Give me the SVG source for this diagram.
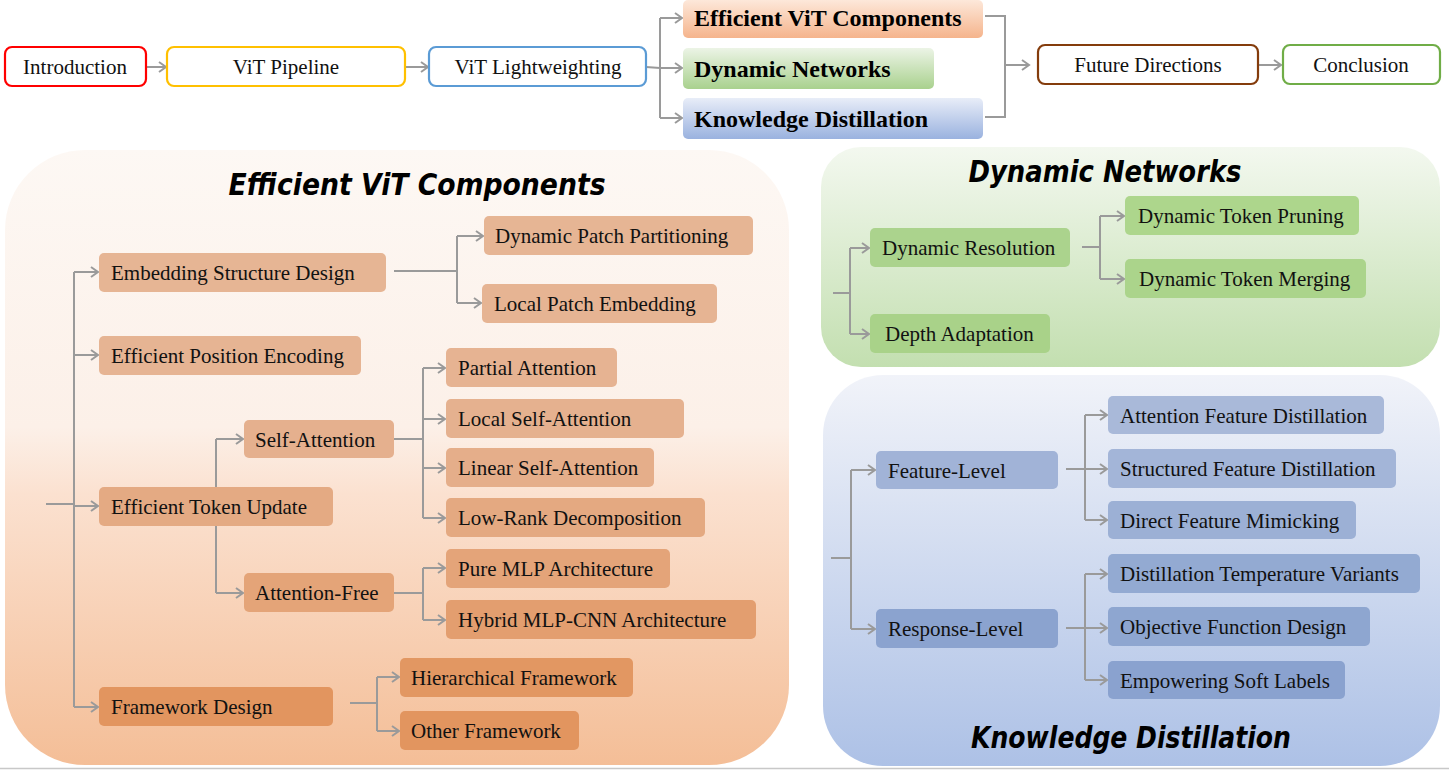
<svg xmlns="http://www.w3.org/2000/svg" width="1449" height="771" viewBox="0 0 1449 771">
<style>
.t{font-family:"Liberation Serif","Times New Roman",serif;font-size:21px;fill:#111}
.tc{text-anchor:middle}
.tb{font-family:"Liberation Serif","Times New Roman",serif;font-size:24px;font-weight:bold;fill:#000}
.title{font-family:"DejaVu Sans",sans-serif;font-size:30px;font-weight:bold;font-style:italic;fill:#000}
.top{fill:#fff;stroke-width:2.2}
.c{fill:none;stroke:#9a9a9a;stroke-width:2}
.ca{fill:none;stroke:#9a9a9a;stroke-width:2;marker-end:url(#ah)}
</style>
<defs>
<marker id="ah" markerUnits="userSpaceOnUse" markerWidth="12" markerHeight="14" refX="9" refY="6" orient="auto" viewBox="0 0 12 12">
<path d="M2,1 L9,6 L2,11" fill="none" stroke="#9a9a9a" stroke-width="2"/>
</marker>
<linearGradient id="gE" x1="0" y1="0" x2="0" y2="1">
<stop offset="0" stop-color="#fdf8f4"/><stop offset="0.45" stop-color="#fcf0e8"/><stop offset="0.56" stop-color="#fbe1d0"/><stop offset="1" stop-color="#f4be97"/>
</linearGradient>
<linearGradient id="gD" x1="0" y1="0" x2="0" y2="1">
<stop offset="0" stop-color="#f3f8ef"/><stop offset="1" stop-color="#c3dfb0"/>
</linearGradient>
<linearGradient id="gK" x1="0" y1="0" x2="0" y2="1">
<stop offset="0" stop-color="#f1f3f9"/><stop offset="1" stop-color="#adc1e6"/>
</linearGradient>
<linearGradient id="bE" x1="0" y1="0" x2="0" y2="1">
<stop offset="0" stop-color="#fde8da"/><stop offset="1" stop-color="#f5b48c"/>
</linearGradient>
<linearGradient id="bD" x1="0" y1="0" x2="0" y2="1">
<stop offset="0" stop-color="#ecf4e6"/><stop offset="1" stop-color="#a9d18e"/>
</linearGradient>
<linearGradient id="bK" x1="0" y1="0" x2="0" y2="1">
<stop offset="0" stop-color="#e8edf8"/><stop offset="1" stop-color="#9ab2df"/>
</linearGradient>
</defs>

<!-- panels -->
<g id="panel-efficient">
<rect x="5" y="150" width="784" height="615" rx="80" fill="url(#gE)"/>
<text class="title" x="417" y="195" text-anchor="middle" textLength="377" lengthAdjust="spacingAndGlyphs">Efficient ViT Components</text>
</g>
<g id="panel-dynamic">
<rect x="821" y="147" width="619" height="220" rx="40" fill="url(#gD)"/>
<text class="title" x="1105" y="182" text-anchor="middle" textLength="273" lengthAdjust="spacingAndGlyphs">Dynamic Networks</text>
</g>
<g id="panel-kd">
<rect x="823" y="375" width="617" height="391" rx="60" fill="url(#gK)"/>
<text class="title" x="1131" y="748" text-anchor="middle" textLength="320" lengthAdjust="spacingAndGlyphs">Knowledge Distillation</text>
</g>

<!-- connectors -->
<g id="connectors">
<!-- top row -->
<line class="ca" x1="146" y1="67" x2="166" y2="67"/>
<line class="ca" x1="405" y1="67" x2="428" y2="67"/>
<line class="c" x1="646" y1="67" x2="660" y2="68"/>
<path class="c" d="M660,18 V118"/>
<line class="ca" x1="660" y1="18" x2="682" y2="18"/>
<line class="ca" x1="660" y1="68" x2="682" y2="68"/>
<line class="ca" x1="660" y1="118" x2="682" y2="118"/>
<path class="c" d="M985,16 H1005 V117 H985"/>
<line class="ca" x1="1005" y1="65" x2="1029" y2="65"/>
<line class="ca" x1="1258" y1="65" x2="1281" y2="65"/>

<!-- efficient panel -->
<line class="c" x1="46" y1="504" x2="74" y2="504"/>
<path class="c" d="M74,272 V707"/>
<line class="ca" x1="74" y1="272" x2="98" y2="272"/>
<line class="ca" x1="74" y1="355" x2="98" y2="355"/>
<line class="ca" x1="74" y1="506" x2="98" y2="506"/>
<line class="ca" x1="74" y1="707" x2="98" y2="707"/>
<line class="c" x1="394" y1="271" x2="457" y2="271"/>
<path class="c" d="M457,236 V303"/>
<line class="ca" x1="457" y1="236" x2="483" y2="236"/>
<line class="ca" x1="457" y1="303" x2="481" y2="303"/>
<path class="c" d="M216,439 V593"/>
<line class="ca" x1="216" y1="439" x2="243" y2="439"/>
<line class="ca" x1="216" y1="593" x2="243" y2="593"/>
<line class="c" x1="394" y1="439" x2="423" y2="439"/>
<path class="c" d="M423,368 V518"/>
<line class="ca" x1="423" y1="368" x2="445" y2="368"/>
<line class="ca" x1="423" y1="419" x2="445" y2="419"/>
<line class="ca" x1="423" y1="468" x2="445" y2="468"/>
<line class="ca" x1="423" y1="518" x2="445" y2="518"/>
<line class="c" x1="394" y1="593" x2="423" y2="593"/>
<path class="c" d="M423,568 V620"/>
<line class="ca" x1="423" y1="568" x2="445" y2="568"/>
<line class="ca" x1="423" y1="620" x2="445" y2="620"/>
<line class="c" x1="350" y1="703" x2="377" y2="703"/>
<path class="c" d="M377,677 V731"/>
<line class="ca" x1="377" y1="677" x2="399" y2="677"/>
<line class="ca" x1="377" y1="731" x2="399" y2="731"/>

<!-- dynamic panel -->
<line class="c" x1="833" y1="293" x2="850" y2="293"/>
<path class="c" d="M850,248 V334"/>
<line class="ca" x1="850" y1="248" x2="869" y2="248"/>
<line class="ca" x1="850" y1="334" x2="869" y2="334"/>
<line class="c" x1="1082" y1="247" x2="1100" y2="247"/>
<path class="c" d="M1100,216 V279"/>
<line class="ca" x1="1100" y1="216" x2="1124" y2="216"/>
<line class="ca" x1="1100" y1="279" x2="1124" y2="279"/>

<!-- kd panel -->
<line class="c" x1="831" y1="558" x2="851" y2="558"/>
<path class="c" d="M851,470 V629"/>
<line class="ca" x1="851" y1="470" x2="875" y2="470"/>
<line class="ca" x1="851" y1="629" x2="875" y2="629"/>
<line class="c" x1="1066" y1="469" x2="1085" y2="469"/>
<path class="c" d="M1085,415 V520"/>
<line class="ca" x1="1085" y1="415" x2="1107" y2="415"/>
<line class="ca" x1="1085" y1="469" x2="1107" y2="469"/>
<line class="ca" x1="1085" y1="520" x2="1107" y2="520"/>
<line class="c" x1="1066" y1="628" x2="1085" y2="628"/>
<path class="c" d="M1085,574 V680"/>
<line class="ca" x1="1085" y1="574" x2="1107" y2="574"/>
<line class="ca" x1="1085" y1="628" x2="1107" y2="628"/>
<line class="ca" x1="1085" y1="680" x2="1107" y2="680"/>
</g>

<!-- top row nodes -->
<g id="n-intro"><rect class="top" x="5" y="47" width="141" height="39" rx="7" stroke="#ff0000"/><text class="t tc" x="75" y="74">Introduction</text></g>
<g id="n-pipeline"><rect class="top" x="167" y="47" width="238" height="39" rx="7" stroke="#ffc000"/><text class="t tc" x="286" y="74">ViT Pipeline</text></g>
<g id="n-light"><rect class="top" x="429" y="47" width="217" height="39" rx="7" stroke="#5b9bd5"/><text class="t tc" x="538" y="74">ViT Lightweighting</text></g>
<g id="n-top-evit"><rect x="683" y="0" width="300" height="38" rx="5" fill="url(#bE)"/><text class="tb" x="694" y="26">Efficient ViT Components</text></g>
<g id="n-top-dn"><rect x="683" y="48" width="251" height="41" rx="5" fill="url(#bD)"/><text class="tb" x="694" y="77">Dynamic Networks</text></g>
<g id="n-top-kd"><rect x="683" y="98" width="300" height="41" rx="5" fill="url(#bK)"/><text class="tb" x="694" y="127">Knowledge Distillation</text></g>
<g id="n-future"><rect class="top" x="1038" y="45" width="220" height="39" rx="7" stroke="#843c0c"/><text class="t tc" x="1148" y="72">Future Directions</text></g>
<g id="n-concl"><rect class="top" x="1283" y="45" width="157" height="39" rx="7" stroke="#70ad47"/><text class="t tc" x="1361" y="72">Conclusion</text></g>

<!-- efficient panel nodes -->
<g id="n-emb"><rect x="99" y="253" width="287" height="39" rx="5" fill="#e6b594"/><text class="t" x="111" y="280">Embedding Structure Design</text></g>
<g id="n-dpp"><rect x="484" y="216" width="269" height="39" rx="5" fill="#e6b594"/><text class="t" x="495" y="243">Dynamic Patch Partitioning</text></g>
<g id="n-lpe"><rect x="482" y="284" width="235" height="39" rx="5" fill="#e6b493"/><text class="t" x="494" y="311">Local Patch Embedding</text></g>
<g id="n-epe"><rect x="99" y="336" width="262" height="39" rx="5" fill="#e6b493"/><text class="t" x="111" y="363">Efficient Position Encoding</text></g>
<g id="n-pa"><rect x="446" y="348" width="171" height="39" rx="5" fill="#e6b392"/><text class="t" x="458" y="375">Partial Attention</text></g>
<g id="n-lsa"><rect x="446" y="399" width="238" height="39" rx="5" fill="#e5b18f"/><text class="t" x="458" y="426">Local Self-Attention</text></g>
<g id="n-sa"><rect x="244" y="420" width="150" height="38" rx="5" fill="#e5b08e"/><text class="t" x="255" y="447">Self-Attention</text></g>
<g id="n-linsa"><rect x="446" y="448" width="208" height="39" rx="5" fill="#e5ae8a"/><text class="t" x="458" y="475">Linear Self-Attention</text></g>
<g id="n-etu"><rect x="99" y="487" width="234" height="39" rx="5" fill="#e4aa83"/><text class="t" x="111" y="514">Efficient Token Update</text></g>
<g id="n-lrd"><rect x="446" y="498" width="259" height="39" rx="5" fill="#e4a981"/><text class="t" x="458" y="525">Low-Rank Decomposition</text></g>
<g id="n-pmlp"><rect x="446" y="549" width="224" height="39" rx="5" fill="#e4a479"/><text class="t" x="458" y="576">Pure MLP Architecture</text></g>
<g id="n-af"><rect x="244" y="573" width="150" height="39" rx="5" fill="#e4a478"/><text class="t" x="255" y="600">Attention-Free</text></g>
<g id="n-hyb"><rect x="446" y="600" width="310" height="39" rx="5" fill="#e39e6f"/><text class="t" x="458" y="627">Hybrid MLP-CNN Architecture</text></g>
<g id="n-hier"><rect x="400" y="658" width="233" height="39" rx="5" fill="#e29762"/><text class="t" x="411" y="685">Hierarchical Framework</text></g>
<g id="n-fd"><rect x="99" y="687" width="234" height="39" rx="5" fill="#e2955f"/><text class="t" x="111" y="714">Framework Design</text></g>
<g id="n-of"><rect x="400" y="711" width="179" height="39" rx="5" fill="#e2955f"/><text class="t" x="411" y="738">Other Framework</text></g>

<!-- dynamic nodes -->
<g id="n-dr"><rect x="870" y="228" width="200" height="39" rx="5" fill="#abd38d"/><text class="t" x="882" y="255">Dynamic Resolution</text></g>
<g id="n-dtp"><rect x="1125" y="196" width="234" height="39" rx="5" fill="#add68c"/><text class="t" x="1138" y="223">Dynamic Token Pruning</text></g>
<g id="n-dtm"><rect x="1125" y="259" width="241" height="39" rx="5" fill="#abd48b"/><text class="t" x="1139" y="286">Dynamic Token Merging</text></g>
<g id="n-da"><rect x="870" y="314" width="180" height="39" rx="5" fill="#a9d289"/><text class="t" x="885" y="341">Depth Adaptation</text></g>

<!-- kd nodes -->
<g id="n-fl"><rect x="876" y="451" width="182" height="38" rx="5" fill="#a1b3d7"/><text class="t" x="888" y="478">Feature-Level</text></g>
<g id="n-rl"><rect x="876" y="609" width="182" height="39" rx="5" fill="#8ba3cf"/><text class="t" x="888" y="636">Response-Level</text></g>
<g id="n-afd"><rect x="1108" y="396" width="276" height="38" rx="5" fill="#a9b9d9"/><text class="t" x="1120" y="423">Attention Feature Distillation</text></g>
<g id="n-sfd"><rect x="1108" y="449" width="288" height="39" rx="5" fill="#a3b5d8"/><text class="t" x="1120" y="476">Structured Feature Distillation</text></g>
<g id="n-dfm"><rect x="1108" y="501" width="248" height="38" rx="5" fill="#9cb0d5"/><text class="t" x="1120" y="528">Direct Feature Mimicking</text></g>
<g id="n-dtv"><rect x="1108" y="554" width="312" height="39" rx="5" fill="#93aad2"/><text class="t" x="1120" y="581">Distillation Temperature Variants</text></g>
<g id="n-ofd"><rect x="1108" y="607" width="262" height="39" rx="5" fill="#8ea6d0"/><text class="t" x="1120" y="634">Objective Function Design</text></g>
<g id="n-esl"><rect x="1108" y="661" width="237" height="38" rx="5" fill="#8aa2cf"/><text class="t" x="1120" y="688">Empowering Soft Labels</text></g>

<line x1="0" y1="768.5" x2="1449" y2="768.5" stroke="#c8c8c8" stroke-width="1.5"/>
</svg>
